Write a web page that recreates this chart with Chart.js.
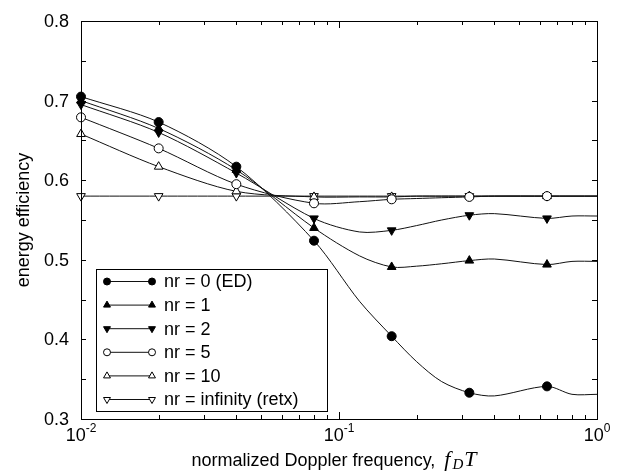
<!DOCTYPE html>
<html>
<head>
<meta charset="utf-8">
<script src="https://cdn.jsdelivr.net/npm/chart.js@4.4.1/dist/chart.umd.min.js"></script>
<style>
  html, body { margin: 0; background: #fff; }
  #wrap { width: 618px; height: 472px; }
</style>
</head>
<body>
<div id="wrap"><canvas id="chart"></canvas></div>
<script>
// normalized Doppler frequency grid the curves were read at
const fdGrid = [0.01, 0.02, 0.04, 0.08, 0.12, 0.16, 0.2, 0.25, 0.32, 0.4, 0.64, 0.8, 1.0];
// points that carry a marker
const markerFd = [0.01, 0.02, 0.04, 0.08, 0.16, 0.32, 0.64];

const effNr0 = [0.705, 0.673, 0.617, 0.524, 0.448, 0.404, 0.372, 0.347, 0.333, 0.329, 0.341, 0.331, 0.331];
const effNr1 = [0.700, 0.665, 0.613, 0.540, 0.505, 0.491, 0.492, 0.495, 0.499, 0.501, 0.494, 0.498, 0.498];
const effNr2 = [0.695, 0.660, 0.609, 0.552, 0.535, 0.537, 0.543, 0.550, 0.556, 0.558, 0.552, 0.555, 0.555];
const effNr5 = [0.679, 0.640, 0.595, 0.571, 0.573, 0.576, 0.577, 0.578, 0.579, 0.580, 0.580, 0.580, 0.580];
const effNr10 = [0.658, 0.617, 0.586, 0.579, 0.579, 0.579, 0.580, 0.580, 0.580, 0.580, 0.580, 0.580, 0.580];
const effInf = [0.580, 0.580, 0.580, 0.580, 0.580, 0.580, 0.580, 0.580, 0.580, 0.580, 0.580, 0.580, 0.580];

const seriesLabels = ["nr = 0 (ED)", "nr = 1", "nr = 2", "nr = 5", "nr = 10", "nr = infinity (retx)"];
const seriesValues = [effNr0, effNr1, effNr2, effNr5, effNr10, effInf];

const yTicks = [0.3, 0.4, 0.5, 0.6, 0.7, 0.8];
const yTickLabels = ["0.3", "0.4", "0.5", "0.6", "0.7", "0.8"];
const yMinorTicks = [0.35, 0.45, 0.55, 0.65, 0.75];
const xTicks = [0.01, 0.1, 1];
const xTickExp = ["-2", "-1", "0"];

const xTitle = "normalized Doppler frequency, ";
const yTitle = "energy efficiency";

// marker looks, same order as the series
const markerStyles = [
  { pointStyle: "circle", fill: "#000", rotation: 0, radius: 4.5 },
  { pointStyle: "triangle", fill: "#000", rotation: 0, radius: 5 },
  { pointStyle: "triangle", fill: "#000", rotation: 180, radius: 5 },
  { pointStyle: "circle", fill: "#fff", rotation: 0, radius: 4.5 },
  { pointStyle: "triangle", fill: "#fff", rotation: 0, radius: 5 },
  { pointStyle: "triangle", fill: "#fff", rotation: 180, radius: 5 },
];

const SANS = "'Liberation Sans', Arial, Helvetica, sans-serif";
const SERIF = "'Liberation Serif', 'Times New Roman', serif";

const datasets = seriesValues.map((vals, i) => {
  const m = markerStyles[i];
  return {
    label: seriesLabels[i],
    data: fdGrid.map((x, j) => ({ x, y: vals[j] })),
    showLine: true,
    borderColor: "#111",
    borderWidth: 1,
    tension: 0.3,
    clip: false,
    pointStyle: m.pointStyle,
    rotation: m.rotation,
    pointBackgroundColor: m.fill,
    pointBorderColor: "#000",
    pointBorderWidth: 1,
    pointRadius: (ctx) => (markerFd.includes(ctx.raw && ctx.raw.x) ? m.radius : 0),
    pointHoverRadius: 0,
  };
});

const axesPlugin = {
  id: "axesPlugin",
  afterDatasetsDraw(chart) {
    const { ctx, chartArea: a, scales } = chart;
    const xs = scales.x, ys = scales.y;
    ctx.save();
    ctx.strokeStyle = "#000";
    ctx.fillStyle = "#000";
    ctx.lineWidth = 1;

    // frame
    ctx.strokeRect(Math.round(a.left) + 0.5, Math.round(a.top) + 0.5,
      Math.round(a.right - a.left), Math.round(a.bottom - a.top));

    // inward ticks
    const tick = (x1, y1, x2, y2) => {
      ctx.beginPath();
      ctx.moveTo(x1, y1);
      ctx.lineTo(x2, y2);
      ctx.stroke();
    };
    yTicks.concat(yMinorTicks).forEach((v) => {
      const y = Math.round(ys.getPixelForValue(v)) + 0.5;
      tick(a.left, y, a.left + 5, y);
      tick(a.right, y, a.right - 5, y);
    });
    [0.01, 0.1].forEach((dec) => {
      for (let k = 1; k <= 9; k++) {
        const v = dec * k;
        const x = Math.round(xs.getPixelForValue(v)) + 0.5;
        const len = k === 1 ? 7 : 4;
        tick(x, a.bottom, x, a.bottom - len);
        tick(x, a.top, x, a.top + len);
      }
    });

    // y tick labels
    ctx.font = "18px " + SANS;
    ctx.textAlign = "right";
    ctx.textBaseline = "middle";
    yTicks.forEach((v, i) => {
      ctx.fillText(yTickLabels[i], a.left - 12, ys.getPixelForValue(v) + 1);
    });

    // x tick labels, 10 with exponent
    ctx.textAlign = "left";
    ctx.textBaseline = "alphabetic";
    xTicks.forEach((v, i) => {
      ctx.font = "18px " + SANS;
      const w1 = ctx.measureText("10").width;
      ctx.font = "12px " + SANS;
      const w2 = ctx.measureText(xTickExp[i]).width;
      const x0 = xs.getPixelForValue(v) - (w1 + w2) / 2;
      ctx.font = "18px " + SANS;
      ctx.fillText("10", x0, a.bottom + 22);
      ctx.font = "12px " + SANS;
      ctx.fillText(xTickExp[i], x0 + w1, a.bottom + 13);
    });

    // x title with math part f_D T
    const base = a.bottom + 47;
    ctx.font = "18px " + SANS;
    const wT = ctx.measureText(xTitle).width + 4;
    ctx.font = "italic 22px " + SERIF;
    const wf = ctx.measureText("f").width + 2;
    const wT2 = ctx.measureText("T").width;
    ctx.font = "italic 15px " + SERIF;
    const wD = ctx.measureText("D").width + 1;
    let x = (a.left + a.right) / 2 - 5 - (wT + wf + wD + wT2) / 2;
    ctx.font = "18px " + SANS;
    ctx.fillText(xTitle, x, base);
    x += wT;
    ctx.font = "italic 22px " + SERIF;
    ctx.fillText("f", x, base);
    x += wf;
    ctx.font = "italic 15px " + SERIF;
    ctx.fillText("D", x, base + 3);
    x += wD;
    ctx.font = "italic 22px " + SERIF;
    ctx.fillText("T", x, base);

    // y title
    ctx.save();
    ctx.translate(29, (a.top + a.bottom) / 2);
    ctx.rotate(-Math.PI / 2);
    ctx.font = "18px " + SANS;
    ctx.textAlign = "center";
    ctx.fillText(yTitle, 0, 0);
    ctx.restore();

    // legend box
    const lx = a.left + 15, ly = a.top + 248, lw = 231, lh = 142;
    ctx.fillStyle = "#fff";
    ctx.fillRect(lx, ly, lw, lh);
    ctx.strokeStyle = "#000";
    ctx.strokeRect(Math.round(lx) + 0.5, Math.round(ly) + 0.5, lw, lh);
    seriesLabels.forEach((lbl, i) => {
      const m = markerStyles[i];
      const y = ly + 12.5 + i * 23.6;
      const x1 = lx + 11, x2 = lx + 56;
      ctx.strokeStyle = "#111";
      ctx.lineWidth = 1;
      tick(x1, y, x2, y);
      ctx.fillStyle = m.fill;
      ctx.strokeStyle = "#000";
      const opts = { pointStyle: m.pointStyle, rotation: m.rotation, radius: m.radius - 1, borderWidth: 1 };
      Chart.helpers.drawPoint(ctx, opts, x1, y);
      Chart.helpers.drawPoint(ctx, opts, x2, y);
      ctx.fillStyle = "#000";
      ctx.font = "18px " + SANS;
      ctx.textAlign = "left";
      ctx.textBaseline = "middle";
      ctx.fillText(lbl, lx + 68, y + 1);
    });
    ctx.restore();
  },
};

new Chart(document.getElementById("chart"), {
  type: "scatter",
  data: { datasets },
  options: {
    responsive: true,
    maintainAspectRatio: false,
    animation: false,
    layout: { padding: { left: 81, right: 21, top: 21, bottom: 53 } },
    scales: {
      x: { type: "logarithmic", min: 0.01, max: 1, display: false },
      y: { type: "linear", min: 0.3, max: 0.8, display: false },
    },
    plugins: {
      legend: { display: false },
      tooltip: { enabled: false },
    },
  },
  plugins: [axesPlugin],
});
</script>
</body>
</html>
